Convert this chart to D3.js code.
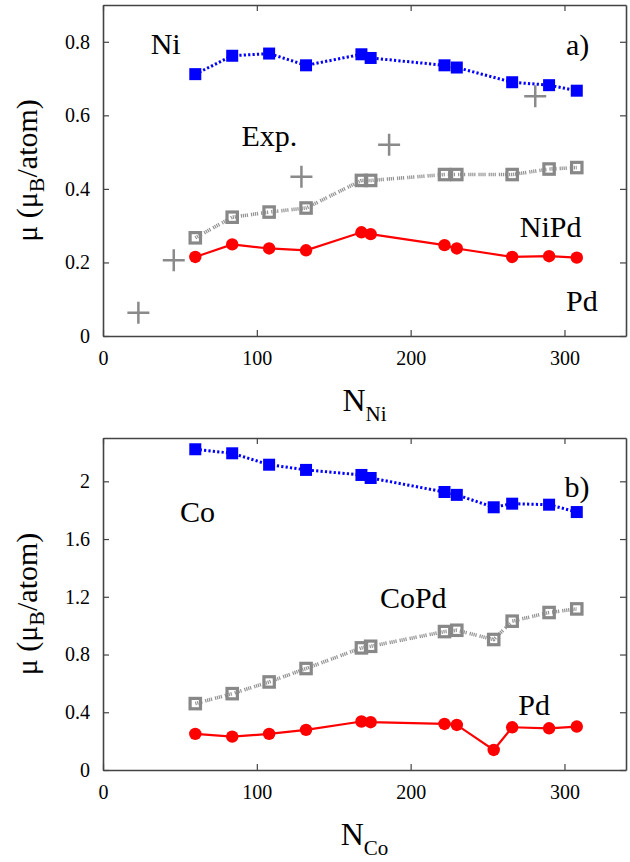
<!DOCTYPE html>
<html lang="en">
<head>
  <meta charset="UTF-8">
  <title>Magnetic moment vs cluster size</title>
  <script src="https://d3js.org/d3.v7.min.js"></script>
  <style>
    body { margin: 0; background: #fff; }
    text { font-family: "Liberation Serif", "Times New Roman", serif; fill: #000; }
  </style>
</head>
<body>
  <svg width="630" height="862"></svg>
<script>
// panel a) NiPd clusters
var nNi = [60, 84, 108, 132, 168, 174, 222, 230, 266, 290, 308];
var niMoment = [0.712, 0.762, 0.768, 0.736, 0.766, 0.756, 0.736, 0.730, 0.690, 0.682, 0.667];
var niPdMoment = [0.267, 0.323, 0.337, 0.348, 0.423, 0.423, 0.439, 0.439, 0.439, 0.454, 0.458];
var pdInNiMoment = [0.215, 0.249, 0.238, 0.233, 0.282, 0.277, 0.247, 0.238, 0.215, 0.217, 0.213];
var expN = [23, 46, 129, 186, 281];
var expMoment = [0.063, 0.206, 0.433, 0.520, 0.652];

// panel b) CoPd clusters
var nCo = [60, 84, 108, 132, 168, 174, 222, 230, 254, 266, 290, 308];
var coMoment = [2.222, 2.194, 2.115, 2.079, 2.044, 2.023, 1.926, 1.906, 1.820, 1.845, 1.838, 1.787];
var coPdMoment = [0.460, 0.529, 0.610, 0.703, 0.846, 0.857, 0.959, 0.968, 0.904, 1.031, 1.091, 1.116];
var pdInCoMoment = [0.250, 0.231, 0.250, 0.278, 0.336, 0.331, 0.319, 0.312, 0.139, 0.296, 0.289, 0.301];

var xTicks = [0, 100, 200, 300];
var yTicksA = [0, 0.2, 0.4, 0.6, 0.8];
var yTicksB = [0, 0.4, 0.8, 1.2, 1.6, 2];

var svg = d3.select("svg");
var left = 103, right = 626;

function zip(xs, ys) {
  return xs.map(function(x, i) { return {x: x, y: ys[i]}; });
}

function panel(opt) {
  var x = d3.scaleLinear().domain([0, 340]).range([left, right]);
  var y = d3.scaleLinear().domain([0, opt.ymax]).range([opt.bottom, opt.top]);
  var fmt = function(d) { return String(+d.toFixed(1)); };

  // axes, ticks pointing inward on all four sides
  svg.append("g").attr("transform", "translate(0," + opt.bottom + ")")
    .call(d3.axisBottom(x).tickValues(xTicks).tickSizeInner(-6).tickSizeOuter(0).tickPadding(15).tickFormat(fmt));
  svg.append("g").attr("transform", "translate(0," + opt.top + ")")
    .call(d3.axisTop(x).tickValues(xTicks).tickSizeInner(-6).tickSizeOuter(0).tickFormat(""));
  svg.append("g").attr("transform", "translate(" + left + ",0)")
    .call(d3.axisLeft(y).tickValues(opt.yTicks).tickSizeInner(-6).tickSizeOuter(0).tickPadding(13).tickFormat(fmt));
  svg.append("g").attr("transform", "translate(" + right + ",0)")
    .call(d3.axisRight(y).tickValues(opt.yTicks).tickSizeInner(-6).tickSizeOuter(0).tickFormat(""));
  svg.selectAll(".domain").attr("stroke", "#444").attr("stroke-width", 1.6);
  svg.selectAll(".tick line").attr("stroke", "#444").attr("stroke-width", 1.2);
  svg.selectAll(".tick text").attr("font-size", 20)
    .style("font-family", "'Liberation Serif', 'Times New Roman', serif");

  var line = d3.line().x(function(d) { return x(d.x); }).y(function(d) { return y(d.y); });

  // Pd (red)
  var pd = zip(opt.n, opt.pd);
  svg.append("path").datum(pd).attr("d", line)
    .attr("fill", "none").attr("stroke", "#f00").attr("stroke-width", 2.2);
  svg.append("g").selectAll("circle").data(pd).join("circle")
    .attr("cx", function(d) { return x(d.x); }).attr("cy", function(d) { return y(d.y); })
    .attr("r", 6.2).attr("fill", "#f00");

  // alloy (gray open squares)
  var alloy = zip(opt.n, opt.alloy);
  svg.append("path").datum(alloy).attr("d", line)
    .attr("fill", "none").attr("stroke", "#939393").attr("stroke-width", 3.6)
    .attr("stroke-dasharray", "1.2,0.8,1.2,0.8,1.2,0.8,1.2,3");
  svg.append("g").selectAll("rect").data(alloy).join("rect")
    .attr("x", function(d) { return x(d.x) - 5.2; }).attr("y", function(d) { return y(d.y) - 5.2; })
    .attr("width", 10.4).attr("height", 10.4)
    .attr("fill", "none").attr("stroke", "#888").attr("stroke-width", 3.2);

  // Ni / Co (blue)
  var mag = zip(opt.n, opt.mag);
  svg.append("path").datum(mag).attr("d", line)
    .attr("fill", "none").attr("stroke", "#00f").attr("stroke-width", 3)
    .attr("stroke-dasharray", "2.2,2.2");
  svg.append("g").selectAll("rect").data(mag).join("rect")
    .attr("x", function(d) { return x(d.x) - 6; }).attr("y", function(d) { return y(d.y) - 6; })
    .attr("width", 12).attr("height", 12).attr("fill", "#00f");

  // experiment (plus signs)
  if (opt.exp) {
    var ex = zip(opt.exp.n, opt.exp.v);
    svg.append("g").selectAll("path").data(ex).join("path")
      .attr("d", function(d) {
        var cx = x(d.x), cy = y(d.y);
        return "M" + (cx - 11) + "," + cy + "H" + (cx + 11) + "M" + cx + "," + (cy - 11) + "V" + (cy + 11);
      })
      .attr("stroke", "#8a8a8a").attr("stroke-width", 2.5).attr("fill", "none");
  }

  opt.labels.forEach(function(l) {
    svg.append("text").attr("x", x(l[1])).attr("y", y(l[2]))
      .attr("font-size", 30).text(l[0]);
  });

  // y title
  var yt = svg.append("text")
    .attr("transform", "translate(37," + ((opt.top + opt.bottom) / 2) + ") rotate(-90)")
    .attr("text-anchor", "middle").attr("font-size", 30);
  yt.append("tspan").text("\u03bc  (\u03bc");
  yt.append("tspan").attr("font-size", 22).attr("dy", 7).text("B");
  yt.append("tspan").attr("dy", -7).text("/atom)");

  // x title
  var xt = svg.append("text").attr("x", (left + right) / 2).attr("y", opt.bottom + 75)
    .attr("text-anchor", "middle").attr("font-size", 32);
  xt.append("tspan").text("N");
  xt.append("tspan").attr("font-size", 21).attr("dy", 10).text(opt.sub);
}

panel({
  top: 5, bottom: 336, ymax: 0.9, yTicks: yTicksA,
  n: nNi, mag: niMoment, alloy: niPdMoment, pd: pdInNiMoment,
  exp: {n: expN, v: expMoment},
  sub: "Ni",
  labels: [["Ni", 31, 0.768], ["a)", 301, 0.764], ["Exp.", 90, 0.517], ["NiPd", 271, 0.27], ["Pd", 301, 0.069]]
});

panel({
  top: 438, bottom: 770, ymax: 2.3, yTicks: yTicksB,
  n: nCo, mag: coMoment, alloy: coPdMoment, pd: pdInCoMoment,
  sub: "Co",
  labels: [["Co", 50, 1.72], ["b)", 300, 1.89], ["CoPd", 180, 1.125], ["Pd", 270, 0.38]]
});
</script>
</body>
</html>
